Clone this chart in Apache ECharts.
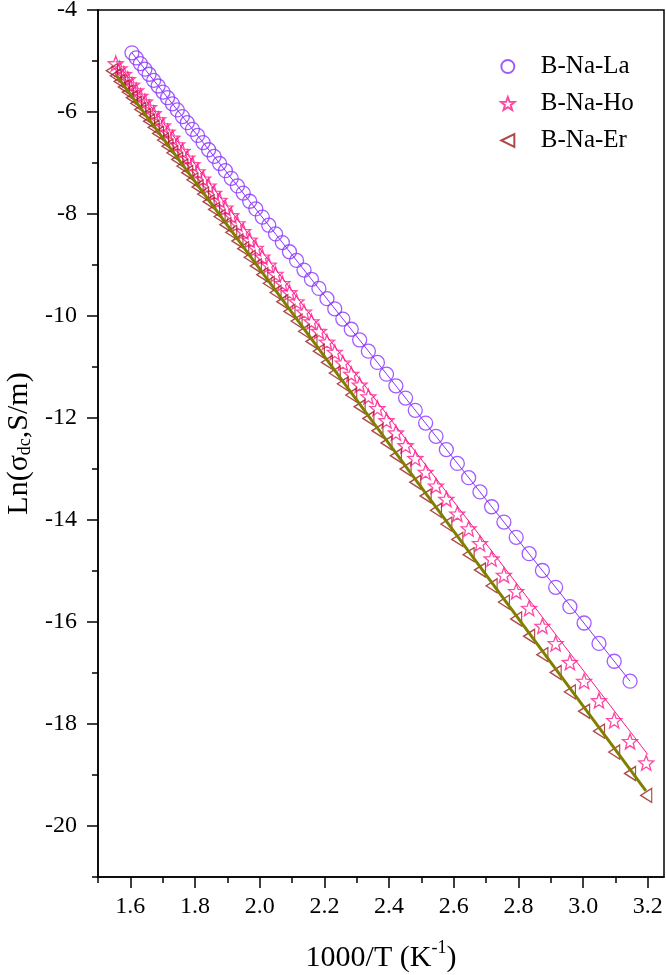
<!DOCTYPE html>
<html>
<head>
<meta charset="utf-8">
<script src="https://cdn.jsdelivr.net/npm/echarts@6/dist/echarts.min.js"></script>
<style>
  html, body { margin: 0; padding: 0; background: #fff; }
  #chart { width: 666px; height: 975px; }
</style>
</head>
<body>
<div id="chart"></div>
<script>
// 1000/T values (K^-1), shared by the three samples
var invT = [1.543,1.555,1.567,1.580,1.592,1.605,1.618,1.631,1.645,1.658,1.672,1.686,1.701,1.715,1.730,1.745,1.761,1.776,1.792,1.808,
            1.825,1.842,1.859,1.876,1.894,1.912,1.931,1.949,1.969,1.988,2.008,2.028,2.049,2.070,2.092,2.114,2.137,2.160,2.183,2.208,
            2.232,2.257,2.283,2.309,2.336,2.364,2.392,2.421,2.451,2.481,2.513,2.545,2.577,2.611,2.646,2.681,2.717,2.755,2.793,2.833,
            2.874,2.915,2.959,3.003,3.049,3.096,3.145,3.195];

var laX = invT.slice(5, 67);
var laY = [-4.84,-4.94,-5.05,-5.16,-5.26,-5.38,-5.49,-5.61,-5.72,-5.84,-5.96,-6.09,-6.21,-6.34,-6.46,-6.60,-6.74,-6.87,-7.01,-7.15,
           -7.30,-7.45,-7.59,-7.75,-7.90,-8.06,-8.22,-8.39,-8.56,-8.74,-8.91,-9.10,-9.28,-9.46,-9.66,-9.86,-10.06,-10.26,-10.47,-10.69,
           -10.91,-11.14,-11.37,-11.61,-11.85,-12.10,-12.36,-12.62,-12.89,-13.17,-13.45,-13.74,-14.04,-14.34,-14.66,-14.99,-15.32,-15.70,-16.02,-16.42,
           -16.77,-17.16];

var hoX = invT.slice(1, 68);
var hoY = [-5.05,-5.15,-5.26,-5.36,-5.47,-5.58,-5.69,-5.80,-5.91,-6.03,-6.15,-6.27,-6.39,-6.51,-6.64,-6.77,-6.90,-7.03,-7.17,-7.31,
           -7.45,-7.59,-7.73,-7.88,-8.03,-8.19,-8.34,-8.51,-8.67,-8.84,-9.00,-9.18,-9.36,-9.54,-9.72,-9.92,-10.11,-10.30,-10.51,-10.71,
           -10.92,-11.14,-11.35,-11.58,-11.81,-12.05,-12.29,-12.54,-12.79,-13.06,-13.33,-13.59,-13.88,-14.17,-14.46,-14.76,-15.08,-15.40,-15.73,-16.08,
           -16.42,-16.79,-17.16,-17.54,-17.93,-18.34,-18.76];

var erX = invT.slice(0, 68);
var erY = [-5.19,-5.29,-5.40,-5.51,-5.61,-5.72,-5.83,-5.95,-6.07,-6.18,-6.30,-6.42,-6.55,-6.67,-6.80,-6.93,-7.06,-7.19,-7.33,-7.47,
           -7.61,-7.76,-7.91,-8.05,-8.21,-8.36,-8.53,-8.68,-8.85,-9.02,-9.19,-9.36,-9.54,-9.72,-9.91,-10.10,-10.30,-10.50,-10.69,-10.91,
           -11.12,-11.33,-11.55,-11.78,-12.01,-12.25,-12.49,-12.74,-13.00,-13.26,-13.53,-13.81,-14.08,-14.38,-14.68,-14.98,-15.29,-15.61,-15.94,-16.28,
           -16.64,-16.99,-17.37,-17.75,-18.14,-18.55,-18.97,-19.40];

// linear fit lines (end points)
var laFit = [[1.605, -4.84], [3.145, -17.16]];
var hoFit = [[1.555, -5.00], [3.200, -18.60]];
var erFit = [[1.557, -5.28], [3.194, -19.31]];

var names = ['B-Na-La', 'B-Na-Ho', 'B-Na-Er'];

// ticks
var xMajor = [1.6, 1.8, 2.0, 2.2, 2.4, 2.6, 2.8, 3.0, 3.2];
var xMinor = [1.5, 1.7, 1.9, 2.1, 2.3, 2.5, 2.7, 2.9, 3.1];
var yMajor = [-4, -6, -8, -10, -12, -14, -16, -18, -20];
var yMinor = [-5, -7, -9, -11, -13, -15, -17, -19, -21];

function pairs(xs, ys) {
    var out = [];
    for (var i = 0; i < ys.length; i++) out.push([xs[i], ys[i]]);
    return out;
}

var FONT = '"Liberation Serif", "Times New Roman", serif';
var starPath = 'path://M50 0 L62.34 33.01 L97.55 34.55 L69.97 56.49 L79.39 90.45 L50 71 L20.61 90.45 L30.03 56.49 L2.45 34.55 L37.66 33.01 Z';
var leftTri = 'path://M0 50 L100 0 L100 100 Z';

var axisLine = {show: true, lineStyle: {color: '#000', width: 1.5}};

var chart = echarts.init(document.getElementById('chart'));
var option = {
    animation: false,
    backgroundColor: '#fff',
    grid: {left: 98, right: 2, top: 10, bottom: 98, show: true, borderColor: '#000', borderWidth: 1.5,
        outerBoundsMode: 'none', containLabel: false},
    legend: {
        data: names,
        orient: 'vertical',
        left: 495,
        top: 49,
        itemWidth: 14,
        itemHeight: 13,
        itemGap: 12,
        textStyle: {fontFamily: FONT, fontSize: 25, color: '#000', lineHeight: 24, padding: [0, 0, 0, 21]}
    },
    xAxis: [
        {
            type: 'value', min: 1.5, max: 3.25, position: 'bottom',
            axisLine: axisLine,
            axisTick: {show: true, customValues: xMajor, length: 11, lineStyle: {color: '#000', width: 1.5}},
            axisLabel: {customValues: xMajor, margin: 18, fontFamily: FONT, fontSize: 24, color: '#000',
                formatter: function (v) { return v.toFixed(1); }},
            splitLine: {show: false},
            name: '{a|1000/T (K}{c|-1}{a|)}',
            nameLocation: 'middle',
            nameGap: 62,
            nameTextStyle: {
                rich: {
                    a: {fontFamily: FONT, fontSize: 30, color: '#000', lineHeight: 34, verticalAlign: 'bottom'},
                    c: {fontFamily: FONT, fontSize: 18, color: '#000', lineHeight: 18, verticalAlign: 'top', padding: [0, 0, 14, 0]}
                }
            }
        },
        {
            type: 'value', min: 1.5, max: 3.25, position: 'bottom',
            axisLine: {show: false},
            axisTick: {show: true, customValues: xMinor, length: 6, lineStyle: {color: '#000', width: 1.5}},
            axisLabel: {show: false},
            splitLine: {show: false}
        }
    ],
    yAxis: [
        {
            type: 'value', min: -21, max: -4, position: 'left',
            axisLine: axisLine,
            axisTick: {show: true, customValues: yMajor, length: 11, lineStyle: {color: '#000', width: 1.5}},
            axisLabel: {customValues: yMajor, margin: 21, fontFamily: FONT, fontSize: 24, color: '#000'},
            splitLine: {show: false},
            name: '{a|Ln(σ}{b|dc}{a|,S/m)}',
            nameLocation: 'middle',
            nameGap: 60,
            nameTextStyle: {
                rich: {
                    a: {fontFamily: FONT, fontSize: 30, color: '#000', lineHeight: 34, verticalAlign: 'bottom'},
                    b: {fontFamily: FONT, fontSize: 18, color: '#000', lineHeight: 18, verticalAlign: 'bottom', padding: [16, 0, 0, 0]}
                }
            }
        },
        {
            type: 'value', min: -21, max: -4, position: 'left',
            axisLine: {show: false},
            axisTick: {show: true, customValues: yMinor, length: 6, lineStyle: {color: '#000', width: 1.5}},
            axisLabel: {show: false},
            splitLine: {show: false}
        }
    ],
    series: [
        {
            name: names[0], type: 'scatter', data: pairs(laX, laY),
            symbol: 'circle', symbolSize: 14,
            itemStyle: {color: 'rgba(0,0,0,0)', borderColor: '#8a33ff', borderWidth: 1.3}
        },
        {
            name: 'La fit', type: 'line', data: laFit, symbol: 'none',
            lineStyle: {color: '#8a33ff', width: 1}
        },
        {
            name: names[1], type: 'scatter', data: pairs(hoX, hoY),
            symbol: starPath, symbolSize: 15,
            itemStyle: {color: 'rgba(0,0,0,0)', borderColor: '#ff1a8c', borderWidth: 1.3}
        },
        {
            name: 'Ho fit', type: 'line', data: hoFit, symbol: 'none',
            lineStyle: {color: '#ff1a8c', width: 1}
        },
        {
            name: names[2], type: 'scatter', data: pairs(erX, erY),
            symbol: leftTri, symbolSize: [11, 14],
            itemStyle: {color: 'rgba(0,0,0,0)', borderColor: '#9b1b1b', borderWidth: 1.3}
        },
        {
            name: 'Er fit', type: 'line', data: erFit, symbol: 'none',
            lineStyle: {color: '#808000', width: 3}
        }
    ]
};
chart.setOption(option);
</script>
</body>
</html>
